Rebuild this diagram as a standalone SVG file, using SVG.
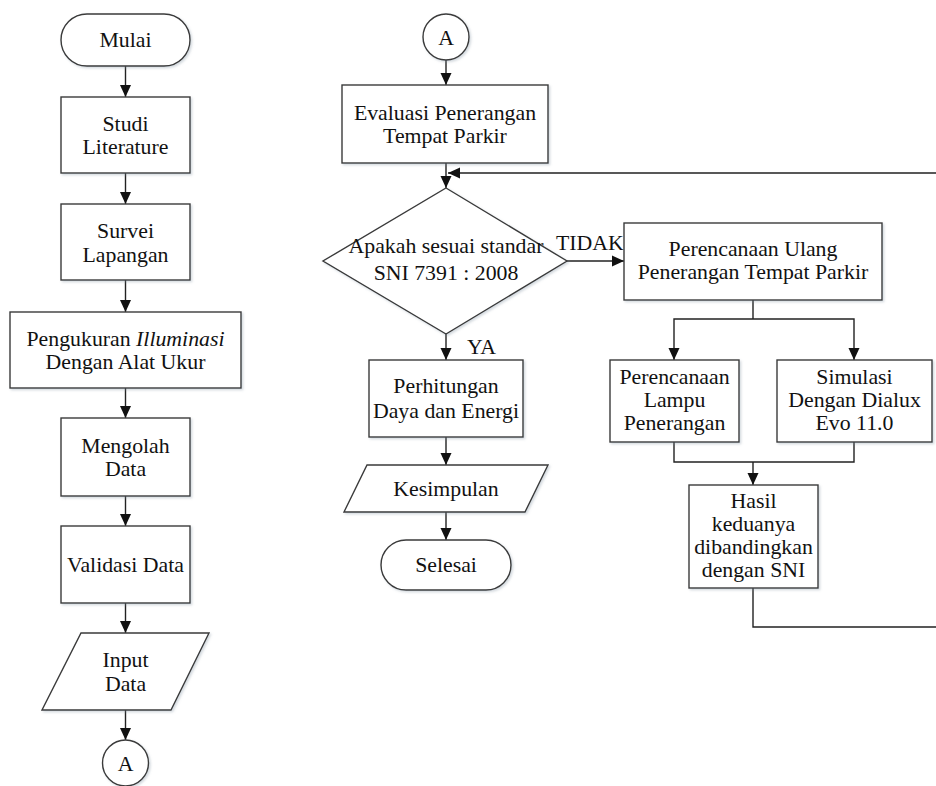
<svg xmlns="http://www.w3.org/2000/svg" width="936" height="786" viewBox="0 0 936 786">
<defs>
<marker id="ah" markerUnits="userSpaceOnUse" markerWidth="12" markerHeight="12" viewBox="0 0 12 12" refX="12" refY="6" orient="auto">
<path d="M0,0.5 L12,6 L0,11.5 Z" fill="#111"/>
</marker>
<filter id="sh" x="-10%" y="-10%" width="120%" height="120%">
<feDropShadow dx="1.5" dy="1.5" stdDeviation="1.2" flood-color="#8090a0" flood-opacity="0.35"/>
</filter>
</defs>
<style>
.n{fill:#fff;stroke:#3a3a3a;stroke-width:1.4;filter:url(#sh)}
text{font-family:'Liberation Serif','DejaVu Serif',serif;font-size:21.8px;fill:#111}
.t{text-anchor:middle}
.c{fill:none;stroke:#222;stroke-width:1.4}
.a{marker-end:url(#ah)}
</style>
<rect width="936" height="786" fill="#fff"/>

<g id="connectors">
<line class="c a" x1="125.5" y1="66" x2="125.5" y2="97"/>
<line class="c a" x1="125.5" y1="173" x2="125.5" y2="204"/>
<line class="c a" x1="125.5" y1="280" x2="125.5" y2="312"/>
<line class="c a" x1="125.5" y1="388" x2="125.5" y2="418"/>
<line class="c a" x1="125.5" y1="496" x2="125.5" y2="526"/>
<line class="c a" x1="125.5" y1="603" x2="125.5" y2="633"/>
<line class="c a" x1="125.5" y1="710" x2="125.5" y2="740"/>
<line class="c a" x1="446" y1="60" x2="446" y2="85"/>
<line class="c a" x1="446" y1="163" x2="446" y2="188"/>
<line class="c a" x1="567" y1="261" x2="624" y2="261"/>
<line class="c a" x1="446" y1="334" x2="446" y2="360"/>
<line class="c a" x1="446" y1="437" x2="446" y2="465"/>
<line class="c a" x1="446" y1="512" x2="446" y2="540"/>
<polyline class="c" points="753,300 753,319"/>
<polyline class="c a" points="753,319 674,319 674,360"/>
<polyline class="c a" points="753,319 854,319 854,360"/>
<polyline class="c" points="674,442 674,462 854,462 854,442"/>
<line class="c a" x1="753" y1="462" x2="753" y2="485"/>
<polyline class="c a" points="753,588 753,627 942,627 942,173 448,173"/>
<text x="556" y="250">TIDAK</text>
<text x="467" y="354">YA</text>
</g>

<g id="mulai"><rect class="n" x="61" y="14" width="129" height="52" rx="26"/><text class="t" x="125.5" y="47">Mulai</text></g>
<g id="studi"><rect class="n" x="61" y="97" width="129" height="76"/><text class="t" x="125.5" y="130.5">Studi</text><text class="t" x="125.5" y="154">Literature</text></g>
<g id="survei"><rect class="n" x="61" y="204" width="129" height="76"/><text class="t" x="125.5" y="238">Survei</text><text class="t" x="125.5" y="261.5">Lapangan</text></g>
<g id="pengukuran"><rect class="n" x="10" y="312" width="231" height="76"/><text class="t" x="125.5" y="346">Pengukuran <tspan font-style="italic">Illuminasi</tspan></text><text class="t" x="125.5" y="369">Dengan Alat Ukur</text></g>
<g id="mengolah"><rect class="n" x="61" y="418" width="129" height="78"/><text class="t" x="125.5" y="452.5">Mengolah</text><text class="t" x="125.5" y="476">Data</text></g>
<g id="validasi"><rect class="n" x="61" y="526" width="129" height="77"/><text class="t" x="125.5" y="571.5">Validasi Data</text></g>
<g id="input"><polygon class="n" points="81,633 209,633 171,710 42,710"/><text class="t" x="125.5" y="667">Input</text><text class="t" x="125.5" y="690.5">Data</text></g>
<g id="connA1"><circle class="n" cx="125.5" cy="763" r="23"/><text class="t" x="125.5" y="770.5">A</text></g>

<g id="connA2"><circle class="n" cx="446" cy="37" r="23"/><text class="t" x="446" y="44.5">A</text></g>
<g id="evaluasi"><rect class="n" x="342" y="85" width="206" height="78"/><text class="t" x="445" y="119.5">Evaluasi Penerangan</text><text class="t" x="445" y="143">Tempat Parkir</text></g>
<g id="keputusan"><polygon class="n" points="446,188 567,261 446,334 323,261"/><text class="t" x="446" y="253">Apakah sesuai standar</text><text class="t" x="446" y="280">SNI 7391 : 2008</text></g>
<g id="perhitungan"><rect class="n" x="369" y="360" width="154" height="77"/><text class="t" x="446" y="393">Perhitungan</text><text class="t" x="446" y="417.5">Daya dan Energi</text></g>
<g id="kesimpulan"><polygon class="n" points="367,465 548,465 525,512 344,512"/><text class="t" x="446" y="495.5">Kesimpulan</text></g>
<g id="selesai"><rect class="n" x="381" y="540" width="130" height="50" rx="25"/><text class="t" x="446" y="572">Selesai</text></g>

<g id="perencanaan-ulang"><rect class="n" x="624" y="223" width="258" height="77"/><text class="t" x="753" y="256">Perencanaan Ulang</text><text class="t" x="753" y="279">Penerangan Tempat Parkir</text></g>
<g id="perencanaan-lampu"><rect class="n" x="610" y="360" width="129" height="82"/><text class="t" x="674.5" y="384">Perencanaan</text><text class="t" x="674.5" y="407">Lampu</text><text class="t" x="674.5" y="430">Penerangan</text></g>
<g id="simulasi"><rect class="n" x="777" y="360" width="155" height="82"/><text class="t" x="854.5" y="384">Simulasi</text><text class="t" x="854.5" y="407">Dengan Dialux</text><text class="t" x="854.5" y="430">Evo 11.0</text></g>
<g id="hasil"><rect class="n" x="689" y="485" width="129" height="103"/><text class="t" x="753.5" y="508">Hasil</text><text class="t" x="753.5" y="531">keduanya</text><text class="t" x="753.5" y="554">dibandingkan</text><text class="t" x="753.5" y="577">dengan SNI</text></g>
</svg>
